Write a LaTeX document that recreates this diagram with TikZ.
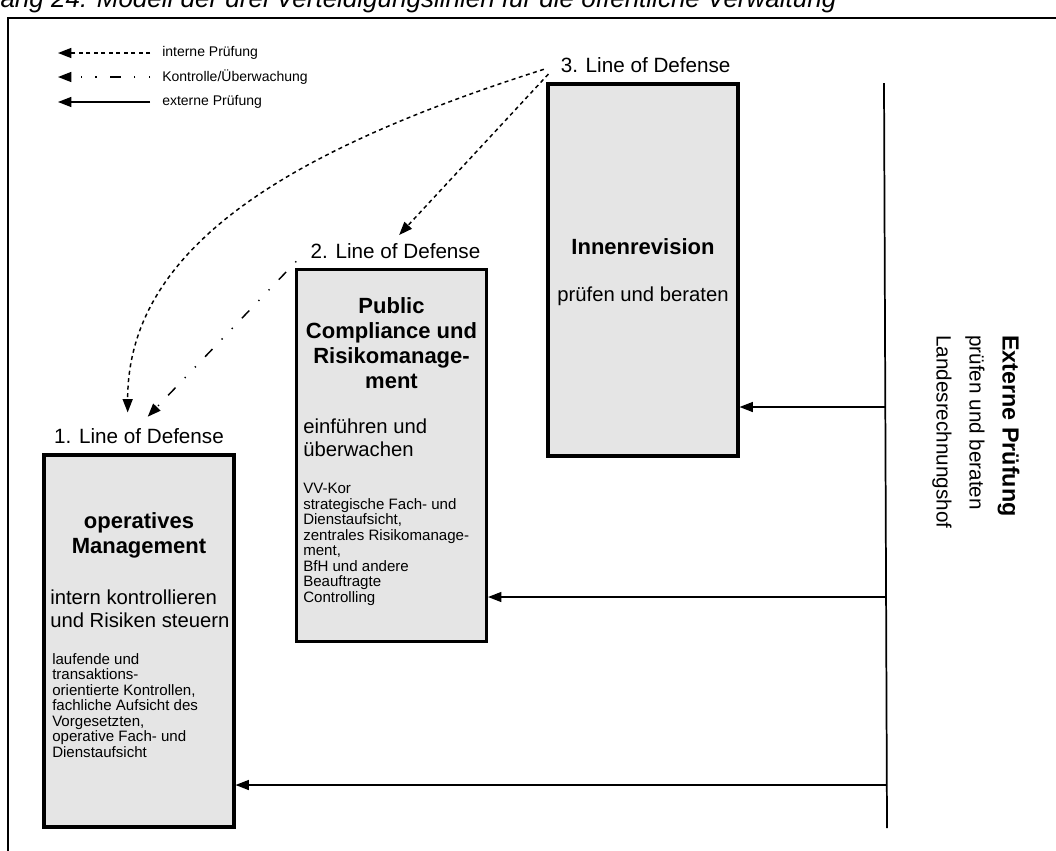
\documentclass[tikz,border=0pt]{standalone}
\usepackage{fontspec}
\setmainfont{Liberation Sans}
\usetikzlibrary{positioning,arrows.meta}

\tikzset{
  >={Triangle[length=10pt,width=7.5pt]},
  frame/.style={line width=0.9pt},
  ldbox/.style={draw=black,line width=2.3pt,fill=black!10,
    minimum width=142.5pt,minimum height=279pt,inner sep=0pt},
  lodlbl/.style={font=\fontsize{15.5}{18}\selectfont,inner sep=3pt},
  boxhead/.style={font=\fontsize{16.5}{18.75}\selectfont\bfseries,
    align=center,inner sep=0pt,anchor=base},
  boxverb/.style={font=\fontsize{15.2}{17}\selectfont,align=left,
    inner sep=0pt,anchor=base west},
  boxsmall/.style={font=\fontsize{11.3}{11.6}\selectfont,align=left,
    inner sep=0pt,anchor=base west},
  legtxt/.style={font=\fontsize{10.5}{12}\selectfont,inner sep=0pt,anchor=west},
  intern/.style={->,line width=1.1pt,dash pattern=on 3pt off 2.6pt},
  kontr/.style={->,line width=1.1pt,
    dash pattern=on 1pt off 10pt on 1pt off 10pt on 8pt off 10pt},
  extern/.style={->,line width=1pt},
  extline/.style={line width=1.3pt},
  vtext/.style={font=\fontsize{15.5}{24.75}\selectfont,rotate=-90,
    align=left,inner sep=0pt,anchor=base west},
}

\begin{document}
\begin{tikzpicture}[x=0.75pt,y=-0.75pt]
  \useasboundingbox (0,0) rectangle (1056,850);
  \clip (0,0) rectangle (1056,850);

  % caption (cut off at the top) and frame
  \node[font=\fontsize{19.5}{22}\selectfont\itshape,anchor=base west,inner sep=0pt]
    (cap) at (-46,7) {Anhang 24: Modell der drei Verteidigungslinien für die öffentliche Verwaltung};
  \draw[frame] (8,852) -- (8,18) -- (1060,18);

  % legend
  \coordinate (lgtip) at (58,0);
  \node[legtxt] (lgint) at (162,53) {interne Prüfung};
  \node[legtxt] (lgkon) at (162,77) {Kontrolle/Überwachung};
  \node[legtxt] (lgext) at (162,102) {externe Prüfung};
  \draw[intern,shorten <=9pt] (lgint.west) -- (lgint.west -| lgtip);
  \draw[kontr,shorten <=9pt] (lgkon.west) -- (lgkon.west -| lgtip);
  \draw[extern,shorten <=9pt] (lgext.west) -- (lgext.west -| lgtip);

  % the three lines of defense
  \node[ldbox] (om) at (139,641) {};
  \node[ldbox] (pcr) at (391.5,455.5) {};
  \node[ldbox] (ir) at (643,270) {};
  \node[lodlbl,above=4pt of om] (lod1) {1. Line of Defense};
  \node[lodlbl,above=4pt of pcr,xshift=3pt] (lod2) {2. Line of Defense};
  \node[lodlbl,above=4pt of ir,xshift=2pt] (lod3) {3. Line of Defense};

  % box texts (base = baseline of the last line)
  \node[boxhead] (omhead) at (139,553) {operatives\\Management};
  \node[boxverb] (omverb) at (50,627) {intern kontrollieren\\und Risiken steuern};
  \node[boxsmall] (omsmall) at (52,757) {laufende und\\transaktions-\\orientierte Kontrollen,\\fachliche Aufsicht des\\Vorgesetzten,\\operative Fach- und\\Dienstaufsicht};

  \node[boxhead] (pcrhead) at (391.5,388) {Public\\Compliance und\\Risikomanage-\\ment};
  \node[boxverb] (pcrverb) at (303,456) {einführen und\\überwachen};
  \node[boxsmall] (pcrsmall) at (303,602) {VV-Kor\\strategische Fach- und\\Dienstaufsicht,\\zentrales Risikomanage-\\ment,\\BfH und andere\\Beauftragte\\Controlling};

  \node[boxhead] (irhead) at (643,254) {Innenrevision};
  \node[boxverb,anchor=base] (irverb) at (643,301) {prüfen und beraten};

  % internal audit and control
  \draw[intern,shorten <=10pt,shorten >=9pt] (lod3.west)
    .. controls +(-261,83) and +(0,-180) .. ([xshift=-8.5pt]lod1.north);
  \draw[intern,shorten <=9pt,shorten >=4pt] (lod3.west) -- (lod2.north);
  \draw[kontr,dash phase=11pt,shorten <=11pt,shorten >=8pt] (lod2.west)
    -- ([xshift=1pt]lod1.north);

  % external audit
  \coordinate (lrhtop) at (884,83);
  \coordinate (lrhbot) at (887,828);
  \draw[extline] (lrhtop) -- (lrhbot);
  \coordinate (e3) at (885,407);
  \coordinate (e2) at (886,597);
  \coordinate (e1) at (887,785);
  \draw[extern] (e3) -- (e3 -| ir.east);
  \draw[extern] (e2) -- (e2 -| pcr.east);
  \draw[extern] (e1) -- (e1 -| om.east);
  \node[vtext] (lrh) at (936.5,335) {\textbf{\fontsize{17.5}{20}\selectfont Externe Prüfung}\\prüfen und beraten\\Landesrechnungshof};
\end{tikzpicture}
\end{document}
